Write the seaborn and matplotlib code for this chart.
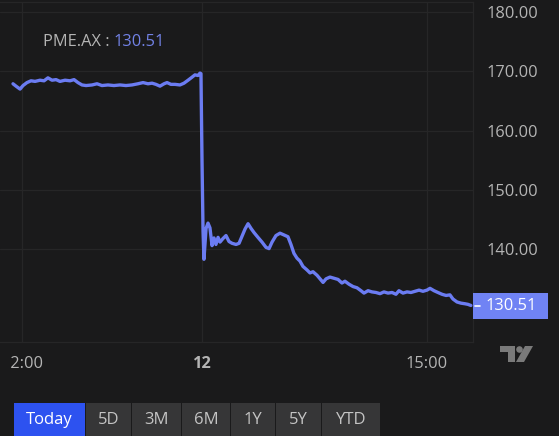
import matplotlib
matplotlib.use("Agg")
import matplotlib.pyplot as plt
import matplotlib.transforms as mtransforms
from matplotlib.patches import Rectangle, Polygon, Circle
import seaborn as sns
import pandas as pd

# ---------------- data (hours relative to midnight of the 12th) ----------------
hours = [-12.6, -12.4, -12.13, -11.93, -11.67, -11.4, -11.13, -10.8, -10.53, -10.27,
         -10.0, -9.73, -9.47, -9.13, -8.8, -8.53, -8.27, -8.0, -7.73, -7.33,
         -7.0, -6.67, -6.27, -5.87, -5.47, -5.07, -4.67, -4.27, -3.93, -3.6,
         -3.33, -3.07, -2.8, -2.53, -2.33, -2.07, -1.8, -1.47, -1.2, -0.93,
         -0.67, -0.47, -0.27, -0.13, -0.07, 0.0, 0.07, 0.13,
         0.27, 0.4, 0.53, 0.67, 0.8, 0.93, 1.07, 1.2, 1.4, 1.6,
         1.8, 2.0, 2.27, 2.47, 2.67, 2.87, 3.07, 3.27, 3.47, 3.73,
         4.0, 4.27, 4.47, 4.67, 4.93, 5.2, 5.47, 5.73, 5.93, 6.13,
         6.33, 6.53, 6.73, 7.0, 7.2, 7.4, 7.67, 7.87, 8.07, 8.27,
         8.53, 8.8, 9.07, 9.33, 9.53, 9.8, 10.07, 10.33, 10.6, 10.8,
         11.07, 11.33, 11.6, 11.87, 12.13, 12.4, 12.67, 12.93, 13.13, 13.4,
         13.67, 13.93, 14.2, 14.47, 14.73, 15.0, 15.2, 15.47, 15.73, 16.0,
         16.27, 16.53, 16.73, 17.0, 17.27, 17.53, 17.73, 17.93]
prices = [167.9, 167.5, 167.0, 167.6, 168.1, 168.4, 168.3, 168.5, 168.4, 168.9,
          168.5, 168.6, 168.3, 168.5, 168.4, 168.6, 168.1, 167.7, 167.6, 167.7,
          167.9, 167.6, 167.7, 167.6, 167.7, 167.6, 167.7, 167.9, 168.1, 167.9,
          168.0, 167.8, 167.5, 167.9, 168.1, 167.8, 167.8, 167.7, 168.0, 168.5,
          169.0, 169.4, 169.3, 169.7, 169.6, 155.0, 143.0, 138.3,
          143.5, 144.4, 143.6, 140.6, 141.9, 140.8, 142.0, 141.2, 141.8, 142.3,
          141.3, 141.0, 140.8, 141.0, 142.2, 143.4, 144.3, 143.5, 142.8, 142.0,
          141.2, 140.3, 140.1, 141.2, 142.3, 142.7, 142.4, 142.1, 140.8, 139.3,
          138.5, 138.0, 137.1, 136.5, 136.0, 136.2, 135.6, 135.0, 134.4, 135.0,
          135.3, 135.1, 134.9, 134.3, 134.6, 134.1, 133.7, 133.5, 133.0, 132.6,
          133.0, 132.8, 132.7, 132.5, 132.8, 132.6, 132.7, 132.4, 133.0, 132.6,
          132.8, 132.7, 132.9, 133.1, 132.9, 133.1, 133.4, 133.0, 132.7, 132.4,
          132.2, 132.3, 131.6, 131.1, 130.9, 130.8, 130.7, 130.51]

symbol = "PME.AX"
last_price = "130.51"
y_ticks = [140, 150, 160, 170, 180]
y_tick_labels = ["140.00", "150.00", "160.00", "170.00", "180.00"]
x_ticks = [-12, 0, 15]
x_tick_labels = ["12:00", "12", "15:00"]
buttons = ["Today", "5D", "3M", "6M", "1Y", "5Y", "YTD"]

# ---------------- style ----------------
BG = "#1a1a1b"
GRID = "#262627"
LINE = "#6b7cf2"
TXT = "#b4b4b4"
FS = 11.8

sns.set_theme(style="dark")
plt.rcParams["font.family"] = ["Open Sans", "DejaVu Sans"]

W, H = 559, 436
fig = plt.figure(figsize=(W / 100, H / 100), dpi=100, facecolor=BG)
px = mtransforms.Affine2D().scale(1 / W, -1 / H).translate(0, 1) + fig.transFigure

ax_left, ax_right, ax_top, ax_bottom = 0, 473, 2, 342
ax = fig.add_axes([ax_left / W, 1 - ax_bottom / H, (ax_right - ax_left) / W, (ax_bottom - ax_top) / H])
ax.set_facecolor(BG)

df = pd.DataFrame({"hour": hours, "price": prices})
sns.lineplot(data=df, x="hour", y="price", color=LINE, linewidth=2.4, estimator=None, ax=ax)

ax.set_xlim(-202 / 15, 271 / 15)
ax.set_ylim(124.35, 181.69)
ax.set_xlabel("")
ax.set_ylabel("")

ax.yaxis.tick_right()
ax.set_yticks(y_ticks)
ax.set_yticklabels(y_tick_labels)
ax.set_xticks(x_ticks)
ax.set_xticklabels(x_tick_labels)
ax.tick_params(axis="y", length=0, pad=10, labelsize=FS, labelcolor=TXT)
ax.tick_params(axis="x", length=0, pad=10, labelsize=FS, labelcolor=TXT)
for lab in ax.get_xticklabels():
    if lab.get_text() == "12":
        lab.set_fontweight("bold")
    if lab.get_text() == "12:00":
        lab.set_clip_on(True)
        lab.set_clip_box(mtransforms.Bbox.from_extents(9, 0, 200, 200))

ax.grid(True, color=GRID, linewidth=0.9)
ax.spines["left"].set_visible(False)
for s in ["right", "bottom", "top"]:
    ax.spines[s].set_visible(True)
    ax.spines[s].set_color(GRID)
    ax.spines[s].set_linewidth(0.9)

# legend text
t1 = fig.text(43, 42, symbol + " : ", transform=px, va="center", ha="left", color=TXT, fontsize=FS)
fig.canvas.draw()
bb = t1.get_window_extent()
fig.text(bb.x1 / W, 1 - 42 / H, last_price, va="center", ha="left", color="#7282e6", fontsize=FS)

# last price box
fig.patches.append(Rectangle((473, 293), 75, 26, transform=px, facecolor="#7083f4", edgecolor="none", zorder=5))
fig.lines.append(plt.Line2D([475, 480], [306, 306], transform=px, color="white", linewidth=1.2, zorder=6))
fig.text(511, 306, last_price, transform=px, ha="center", va="center", color="white", fontsize=FS, zorder=7)

# TradingView logo (approximate)
LOGO = "#7a7a7a"
fig.patches.append(Polygon([(500, 346), (515, 346), (515, 362), (508, 362), (508, 352), (500, 352)],
                           closed=True, transform=px, facecolor=LOGO, edgecolor="none", zorder=5))
fig.patches.append(Circle((519.5, 349.5), 3.3, transform=px, facecolor=LOGO, edgecolor="none", zorder=5))
fig.patches.append(Polygon([(525, 346), (533, 346), (524, 362), (516, 362)],
                           closed=True, transform=px, facecolor=LOGO, edgecolor="none", zorder=5))

# range buttons
edges = [14, 86, 132, 182, 231, 276, 322, 381]
for i, name in enumerate(buttons):
    x0, x1 = edges[i], edges[i + 1] - 1
    fc = "#2d52f0" if i == 0 else "#363637"
    tc = "white" if i == 0 else "#c4c4c4"
    fig.patches.append(Rectangle((x0, 403), x1 - x0, 34, transform=px, facecolor=fc, edgecolor="none", zorder=5))
    fig.text((x0 + x1) / 2, 420, name, transform=px, ha="center", va="center", color=tc, fontsize=12, zorder=6)

fig.savefig("out.png", dpi=100, facecolor=BG)
